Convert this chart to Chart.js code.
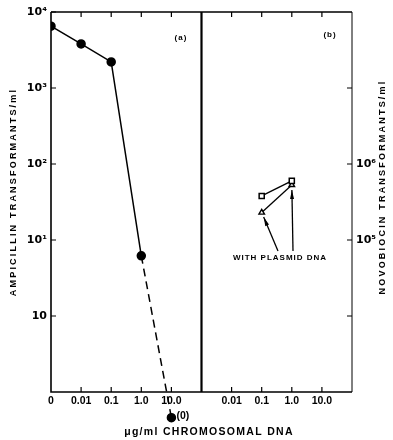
<!DOCTYPE html>
<html><head><meta charset="utf-8">
<script src="https://cdn.jsdelivr.net/npm/chart.js@4/dist/chart.umd.min.js"></script>
<style>html,body{margin:0;padding:0;background:#fff}#wrap{width:393px;height:440px;position:relative}</style>
</head><body><div id="wrap"><canvas id="c" width="393" height="440"></canvas></div>
<script>
// ---- data ----
const concA = [0, 0.01, 0.1, 1.0];              // µg/ml chromosomal DNA, panel (a)
const ampicillin = [6500, 3800, 2200, 6.2];      // ampicillin transformants/ml
const concDashed = [1.0, 10.0];
const ampDashed = [6.2, 0.046];                  // last point plotted as "(0)" below the axis
const concB = [0.1, 1.0];                        // panel (b)
const novoSquares = [3.8e5, 6.0e5];              // novobiocin transformants/ml
const novoTriangles = [2.3e5, 5.3e5];            // with plasmid DNA
const xTicksA = [0, 0.01, 0.1, 1.0, 10.0];
const xLabelsA = ['0', '0.01', '0.1', '1.0', '10.0'];
const xTicksB = [0.01, 0.1, 1.0, 10.0];
const xLabelsB = ['0.01', '0.1', '1.0', '10.0'];
const yLeftTicks = [1e4, 1e3, 1e2, 1e1, 1];
const yLeftLabels = ['10⁴', '10³', '10²', '10¹', '10'];
const yRightTicks = [1e7, 1e6, 1e5, 1e4];
const yRightLabels = ['', '10⁶', '10⁵', ''];

// panel (b) is placed 5 log-decades to the right of panel (a)
const PANEL_B_OFFSET = 5;
const xPos = (c, panel) => (c === 0 ? -3 : Math.log10(c)) + (panel === 'b' ? PANEL_B_OFFSET : 0);

const xTickMap = new Map();
xTicksA.forEach((c, i) => xTickMap.set(xPos(c, 'a'), xLabelsA[i]));
xTicksB.forEach((c, i) => xTickMap.set(xPos(c, 'b'), xLabelsB[i]));

const FONT = "'Liberation Sans', 'DejaVu Sans', sans-serif";
const SUPFONT = "'DejaVu Sans', sans-serif";

const pts = (xs, ys, panel) => xs.map((c, i) => ({ x: xPos(c, panel), y: ys[i] }));

const overlay = {
  id: 'overlay',
  afterDatasetsDraw(chart) {
    const ctx = chart.ctx;
    const a = chart.chartArea;
    const x = chart.scales.x, y = chart.scales.y, y2 = chart.scales.y2;
    ctx.save();
    ctx.strokeStyle = '#000';
    ctx.fillStyle = '#000';
    // frame
    ctx.lineWidth = 1.6;
    ctx.beginPath();
    ctx.moveTo(a.left, a.top); ctx.lineTo(a.right, a.top);
    ctx.moveTo(a.left, a.top); ctx.lineTo(a.left, a.bottom); ctx.lineTo(a.right, a.bottom);
    ctx.stroke();
    ctx.lineWidth = 1;
    ctx.beginPath(); ctx.moveTo(a.right, a.top); ctx.lineTo(a.right, a.bottom); ctx.stroke();
    // divider between panels
    const xd = x.getPixelForValue(2);
    ctx.lineWidth = 2.2;
    ctx.beginPath(); ctx.moveTo(xd, a.top); ctx.lineTo(xd, a.bottom); ctx.stroke();
    // inward tick marks
    ctx.lineWidth = 1.2;
    ctx.beginPath();
    x.ticks.forEach(t => {
      if (t.value === -3) return;
      const px = x.getPixelForValue(t.value);
      ctx.moveTo(px, a.bottom); ctx.lineTo(px, a.bottom - 5);
      ctx.moveTo(px, a.top); ctx.lineTo(px, a.top + 5);
    });
    y.ticks.forEach(t => {
      const py = y.getPixelForValue(t.value);
      ctx.moveTo(a.left, py); ctx.lineTo(a.left + 5, py);
    });
    y2.ticks.forEach(t => {
      const py = y2.getPixelForValue(t.value);
      ctx.moveTo(a.right, py); ctx.lineTo(a.right - 5, py);
    });
    ctx.stroke();

    // "(0)" point drawn below the axis with the library's own point element
    const dMeta = chart.getDatasetMeta(1);
    const zeroPt = dMeta.data[1];
    zeroPt.draw(ctx, { left: 0, top: 0, right: chart.width, bottom: chart.height });
    ctx.font = 'bold 10.5px ' + FONT;
    ctx.textAlign = 'left'; ctx.textBaseline = 'middle';
    ctx.fillText('(0)', zeroPt.x + 5, zeroPt.y - 2);

    // panel letters
    ctx.font = 'bold 8px ' + FONT;
    ctx.letterSpacing = '1px';
    ctx.textAlign = 'center';
    ctx.fillText('(a)', 181, 38);
    ctx.fillText('(b)', 330, 35);

    // axis titles
    ctx.font = 'bold 9px ' + FONT;
    ctx.letterSpacing = '2.2px';
    ctx.save(); ctx.translate(14, 192); ctx.rotate(-Math.PI / 2);
    ctx.fillText('AMPICILLIN TRANSFORMANTS/ml', 0, 0); ctx.restore();
    ctx.save(); ctx.translate(383, 187); ctx.rotate(-Math.PI / 2);
    ctx.fillText('NOVOBIOCIN TRANSFORMANTS/ml', 0, 0); ctx.restore();
    ctx.font = 'bold 10.5px ' + FONT;
    ctx.letterSpacing = '1.3px';
    ctx.fillText('μg/ml CHROMOSOMAL DNA', 209, 432);

    // annotation with arrows to the triangle points
    ctx.font = 'bold 8px ' + FONT;
    ctx.letterSpacing = '1px';
    ctx.fillText('WITH PLASMID DNA', 280, 258);
    const tMeta = chart.getDatasetMeta(3);
    const tails = [{ x: 278, y: 251 }, { x: 293, y: 251 }];
    ctx.lineWidth = 1.3;
    tMeta.data.forEach((p, i) => {
      const tail = tails[i];
      const dx = p.x - tail.x, dy = p.y - tail.y, L = Math.hypot(dx, dy);
      const ux = dx / L, uy = dy / L;
      const tip = { x: p.x - ux * 5, y: p.y - uy * 5 };
      ctx.beginPath(); ctx.moveTo(tail.x, tail.y); ctx.lineTo(tip.x, tip.y); ctx.stroke();
      const bx = tip.x - ux * 9, by = tip.y - uy * 9, nx = -uy * 2, ny = ux * 2;
      ctx.beginPath(); ctx.moveTo(tip.x, tip.y); ctx.lineTo(bx + nx, by + ny); ctx.lineTo(bx - nx, by - ny); ctx.closePath(); ctx.fill();
    });
    ctx.restore();
  }
};

new Chart(document.getElementById('c'), {
  type: 'scatter',
  data: {
    datasets: [
      { data: pts(concA, ampicillin, 'a'), showLine: true, borderColor: '#000', borderWidth: 1.5,
        pointStyle: 'circle', pointRadius: 4, pointBackgroundColor: '#000', pointBorderColor: '#000', yAxisID: 'y' },
      { data: pts(concDashed, ampDashed, 'a'), showLine: true, borderColor: '#000', borderWidth: 1.5, borderDash: [8, 5],
        pointRadius: [0, 4], pointBackgroundColor: '#000', pointBorderColor: '#000', clip: false, yAxisID: 'y' },
      { data: pts(concB, novoSquares, 'b'), showLine: true, borderColor: '#000', borderWidth: 1.3,
        pointStyle: 'rect', pointRadius: 3.6, pointBackgroundColor: '#fff', pointBorderColor: '#000', pointBorderWidth: 1.5, yAxisID: 'y2' },
      { data: pts(concB, novoTriangles, 'b'), showLine: true, borderColor: '#000', borderWidth: 1.3,
        pointStyle: 'triangle', pointRadius: 3.2, pointBackgroundColor: '#fff', pointBorderColor: '#000', pointBorderWidth: 1.4, yAxisID: 'y2' }
    ]
  },
  options: {
    responsive: false,
    animation: false,
    events: [],
    layout: { padding: { top: 12, left: 0, right: 0, bottom: 0 } },
    plugins: { legend: { display: false }, tooltip: { enabled: false } },
    scales: {
      x: {
        type: 'linear', min: -3, max: 7, position: 'bottom',
        grid: { display: false, drawTicks: false }, border: { display: false },
        afterBuildTicks: s => { s.ticks = [...xTickMap.keys()].map(v => ({ value: v })); },
        afterFit: s => { s.height = 48; },
        ticks: { autoSkip: false, maxRotation: 0, padding: 3, color: '#000',
          font: { family: FONT, size: 10.5, weight: 'bold' },
          callback: v => xTickMap.get(v) ?? '' }
      },
      y: {
        type: 'logarithmic', min: 0.1, max: 1e4, position: 'left',
        grid: { display: false, drawTicks: false }, border: { display: false },
        afterBuildTicks: s => { s.ticks = yLeftTicks.map(v => ({ value: v })); },
        afterFit: s => { s.width = 51; },
        ticks: { autoSkip: false, padding: 4, color: '#000',
          font: { family: SUPFONT, size: 11, weight: 'bold' },
          callback: v => yLeftLabels[yLeftTicks.indexOf(v)] ?? '' }
      },
      y2: {
        type: 'logarithmic', min: 1e3, max: 1e8, position: 'right',
        grid: { display: false, drawTicks: false }, border: { display: false },
        afterBuildTicks: s => { s.ticks = yRightTicks.map(v => ({ value: v })); },
        afterFit: s => { s.width = 41; },
        ticks: { autoSkip: false, padding: 4, color: '#000',
          font: { family: SUPFONT, size: 11, weight: 'bold' },
          callback: v => yRightLabels[yRightTicks.indexOf(v)] ?? '' }
      }
    }
  },
  plugins: [overlay]
});
</script></body></html>
